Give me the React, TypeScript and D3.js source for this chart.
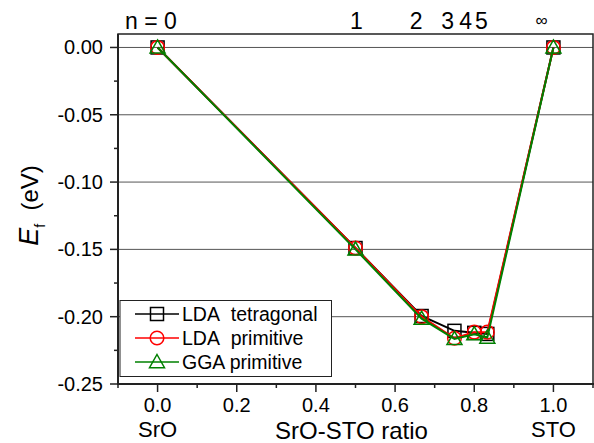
import React from 'react';
import * as d3 from 'd3';

// SrO-STO ratio for each structure
const ratio = [0, 0.5, 0.667, 0.75, 0.8, 0.833, 1.0];
const ldaTetragonal = [0, -0.149, -0.1995, -0.2105, -0.212, -0.2128, 0];
const ldaPrimitive = [0, -0.149, -0.2, -0.216, -0.2115, -0.2115, 0];
const ggaPrimitive = [0, -0.150, -0.2015, -0.2165, -0.213, -0.2155, 0];

// n labels along the top
const nLabels = ['n = 0', '1', '2', '3', '4', '5', '\u221E'];
const nLabelX = [-0.017, 0.502, 0.653, 0.733, 0.778, 0.818, 0.97];

const xTicks = [0, 0.2, 0.4, 0.6, 0.8, 1.0];
const xMinor = [-0.1, 0.1, 0.3, 0.5, 0.7, 0.9, 1.1];
const yTicks = [0, -0.05, -0.1, -0.15, -0.2, -0.25];
const yMinor = [-0.025, -0.075, -0.125, -0.175, -0.225];

const series = [
  { name: 'LDA\u00A0\u00A0tetragonal', values: ldaTetragonal, color: '#000000', shape: 'square' },
  { name: 'LDA\u00A0\u00A0primitive', values: ldaPrimitive, color: '#ff0000', shape: 'circle' },
  { name: 'GGA primitive', values: ggaPrimitive, color: '#008000', shape: 'triangle' },
];

const width = 594;
const height = 443;
const marginLeft = 118;
const marginRight = 1;
const marginTop = 34;
const marginBottom = 59;

const x = d3.scaleLinear().domain([-0.1, 1.1]).range([marginLeft, width - marginRight]);
const y = d3.scaleLinear().domain([-0.25, 0.01]).range([height - marginBottom, marginTop]);

const font = 'Liberation Sans, Arial, sans-serif';
const fmtY = (t: number) => d3.format('.2f')(t).replace('\u2212', '-');

const Marker = ({ shape, cx, cy, color }) => {
  if (shape === 'square') {
    return <rect x={cx - 6.5} y={cy - 6.5} width={13} height={13} fill="none" stroke={color} strokeWidth={1.5} />;
  }
  if (shape === 'circle') {
    return <circle cx={cx} cy={cy} r={6.8} fill="none" stroke={color} strokeWidth={1.5} />;
  }
  const s = 7.5;
  return (
    <path
      d={`M${cx},${cy - s} L${cx + s},${cy + s * 0.75} L${cx - s},${cy + s * 0.75} Z`}
      fill="none"
      stroke={color}
      strokeWidth={1.5}
    />
  );
};

export default function App() {
  const line = d3.line<number>()
    .x((d, i) => x(ratio[i]))
    .y((d) => y(d));

  const bottom = height - marginBottom;

  return (
    <svg width={width} height={height} style={{ position: 'absolute', left: 0, top: 0 }} fontFamily={font}>
      <rect width={width} height={height} fill="white" />

      {/* grid */}
      {yTicks.slice(0, 5).map((t) => (
        <line key={t} x1={marginLeft} x2={width - marginRight} y1={y(t)} y2={y(t)} stroke="#555" strokeWidth={1} />
      ))}

      {/* frame */}
      <rect x={marginLeft} y={marginTop} width={width - marginRight - marginLeft} height={bottom - marginTop}
        fill="none" stroke="#222" strokeWidth={1.5} />
      <line x1={marginLeft} x2={marginLeft} y1={marginTop} y2={bottom + 1} stroke="#222" strokeWidth={2} />
      <line x1={marginLeft - 1} x2={width} y1={bottom} y2={bottom} stroke="#222" strokeWidth={2} />

      {/* y ticks */}
      {yTicks.map((t) => (
        <g key={t}>
          <line x1={marginLeft - 8} x2={marginLeft} y1={y(t)} y2={y(t)} stroke="#222" strokeWidth={1.5} />
          <text x={marginLeft - 15} y={y(t)} dy="0.35em" textAnchor="end" fontSize={20}>
            {fmtY(t)}
          </text>
        </g>
      ))}
      {yMinor.map((t) => (
        <line key={t} x1={marginLeft - 4} x2={marginLeft} y1={y(t)} y2={y(t)} stroke="#222" strokeWidth={1.5} />
      ))}

      {/* x ticks */}
      {xTicks.map((t) => (
        <g key={t}>
          <line x1={x(t)} x2={x(t)} y1={bottom} y2={bottom + 8} stroke="#222" strokeWidth={1.5} />
          <text x={x(t)} y={bottom + 28} textAnchor="middle" fontSize={20}>
            {d3.format('.1f')(t)}
          </text>
        </g>
      ))}
      {xMinor.map((t) => (
        <line key={t} x1={x(t)} x2={x(t)} y1={bottom} y2={bottom + 4} stroke="#222" strokeWidth={1.5} />
      ))}

      {/* axis titles */}
      <text x={x(0)} y={bottom + 53} textAnchor="middle" fontSize={22}>SrO</text>
      <text x={x(1)} y={bottom + 53} textAnchor="middle" fontSize={22}>STO</text>
      <text x={x(0.5) - 4} y={bottom + 55} textAnchor="middle" fontSize={24}>SrO-STO ratio</text>
      <text transform={`translate(38,${y(-0.125) + 30}) rotate(-90)`} fontSize={24}>
        <tspan fontStyle="italic" fontSize={27}>E</tspan>
        <tspan fontSize={14} dy={7}>f</tspan>
        <tspan dy={-7}>{'\u00A0\u00A0(eV)'}</tspan>
      </text>

      {/* n labels */}
      {nLabels.map((l, i) => (
        <text key={l} x={x(nLabelX[i])} y={29} textAnchor="middle" fontSize={l === '\u221E' ? 17 : 23}
          dy={l === '\u221E' ? -3 : 0}>
          {l}
        </text>
      ))}

      {/* series */}
      {series.map((s) => (
        <g key={s.name}>
          <path d={line(s.values) ?? ''} fill="none" stroke={s.color} strokeWidth={2} />
          {s.values.map((v, i) => (
            <Marker key={i} shape={s.shape} cx={x(ratio[i])} cy={y(v)} color={s.color} />
          ))}
        </g>
      ))}

      {/* legend */}
      <rect x={120} y={300.5} width={211.5} height={76} fill="white" stroke="#222" strokeWidth={1} />
      {series.map((s, i) => {
        const ly = 314 + i * 24;
        return (
          <g key={s.name}>
            <line x1={135} x2={179} y1={ly} y2={ly} stroke={s.color} strokeWidth={1.5} />
            <Marker shape={s.shape} cx={157} cy={ly} color={s.color} />
            <text x={182} y={ly} dy="0.36em" fontSize={19.5}>{s.name}</text>
          </g>
        );
      })}
    </svg>
  );
}
